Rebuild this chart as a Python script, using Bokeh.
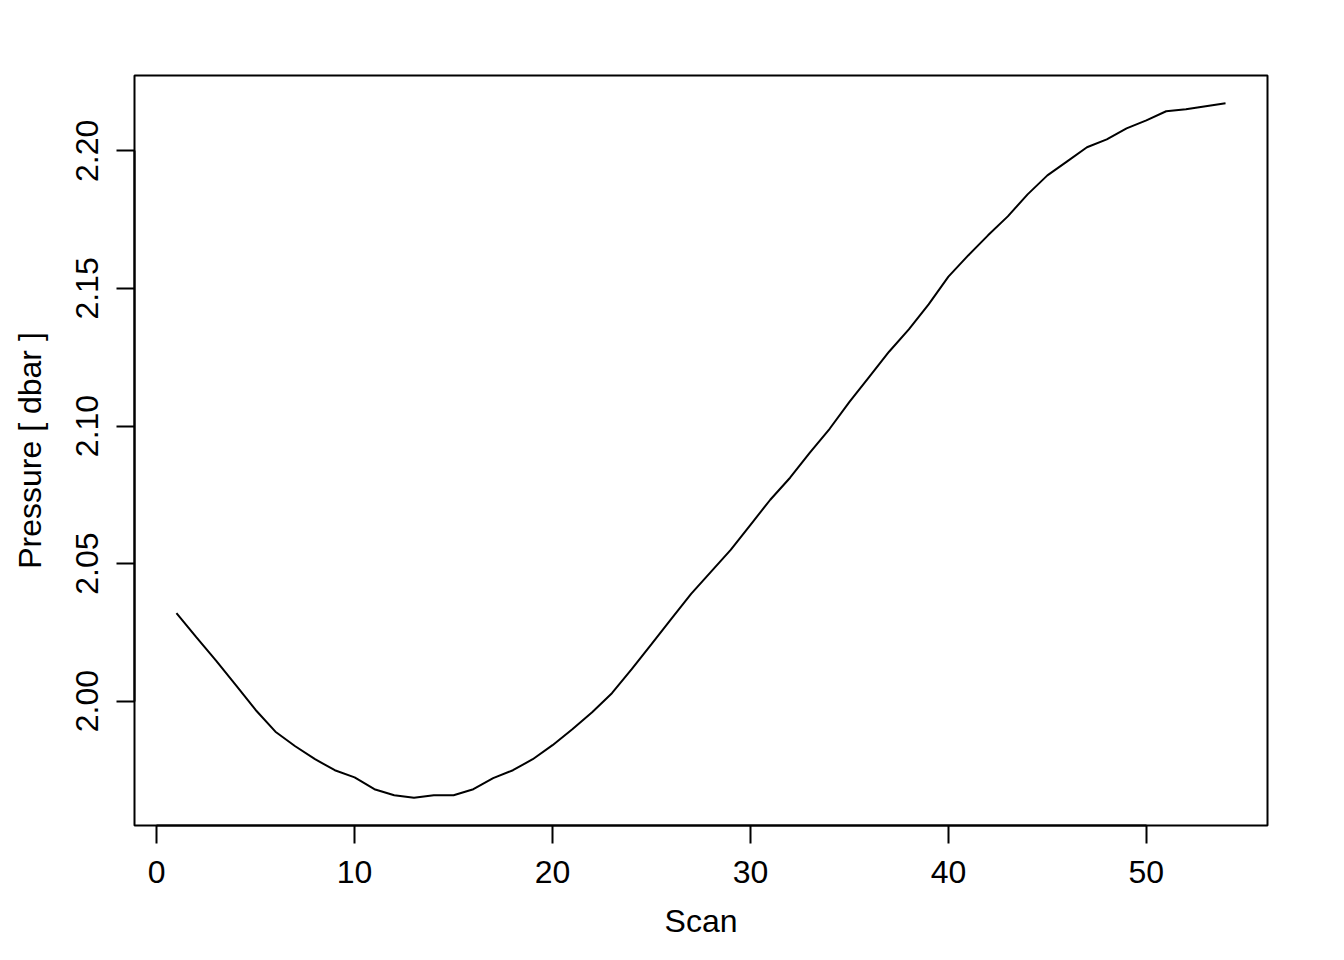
from bokeh.plotting import figure
from bokeh.models import Range1d, FixedTicker
from bokeh.embed import file_html
from bokeh.resources import INLINE

# Data
scan = list(range(1, 55))
pressure = [
    2.0320, 2.0233, 2.0147, 2.0058, 1.9968, 1.9889, 1.9836, 1.9789, 1.9749, 1.9723,
    1.9680, 1.9658, 1.9649, 1.9658, 1.9658, 1.9680, 1.9720, 1.9749, 1.9789, 1.9840,
    1.9898, 1.9960, 2.0029, 2.0116, 2.0207, 2.0299, 2.0390, 2.0470, 2.0550, 2.0641,
    2.0732, 2.0812, 2.0903, 2.0990, 2.1088, 2.1179, 2.1270, 2.1351, 2.1442, 2.1543,
    2.1620, 2.1693, 2.1762, 2.1842, 2.1911, 2.1962, 2.2013, 2.2042, 2.2082, 2.2111,
    2.2144, 2.2151, 2.2162, 2.2173,
]
x_ticks = [0, 10, 20, 30, 40, 50]
y_ticks = [2.00, 2.05, 2.10, 2.15, 2.20]
y_tick_labels = {2.00: "2.00", 2.05: "2.05", 2.10: "2.10", 2.15: "2.15", 2.20: "2.20"}
x_title = "Scan"
y_title = "Pressure [ dbar ]"

# R-style 4% range extension
def ext(vals):
    lo, hi = min(vals), max(vals)
    d = (hi - lo) * 0.04
    return lo - d, hi + d

xlo, xhi = ext(scan)
ylo, yhi = ext(pressure)

FONT = "Liberation Sans"
FS = "32px"

p = figure(
    width=1336, height=944,
    output_backend="svg", toolbar_location=None,
    x_range=Range1d(xlo, xhi), y_range=Range1d(ylo, yhi),
    min_border_left=134, min_border_right=69,
    min_border_top=75, min_border_bottom=119,
    background_fill_color="white", border_fill_color="white",
)
p.grid.visible = False
p.outline_line_color = "black"
p.outline_line_width = 2
p.outline_line_alpha = 1.0

p.line(scan, pressure, line_color="black", line_width=2)

for ax in (p.xaxis[0], p.yaxis[0]):
    ax.axis_line_width = 2
    ax.axis_line_color = "black"
    ax.major_tick_line_width = 2
    ax.major_tick_line_color = "black"
    ax.major_tick_out = 18
    ax.major_tick_in = 0
    ax.minor_tick_out = 0
    ax.minor_tick_in = 0
    ax.major_label_text_font = FONT
    ax.major_label_text_font_size = FS
    ax.major_label_text_color = "black"
    ax.axis_label_text_font = FONT
    ax.axis_label_text_font_size = FS
    ax.axis_label_text_font_style = "normal"
    ax.axis_label_text_color = "black"

p.xaxis[0].ticker = FixedTicker(ticks=x_ticks)
p.xaxis[0].bounds = (min(x_ticks), max(x_ticks))
p.xaxis[0].axis_label = x_title
p.xaxis[0].major_label_standoff = 17
p.xaxis[0].axis_label_standoff = 17

p.yaxis[0].ticker = FixedTicker(ticks=y_ticks)
p.yaxis[0].bounds = (min(y_ticks), max(y_ticks))
p.yaxis[0].major_label_overrides = y_tick_labels
p.yaxis[0].major_label_orientation = "vertical"
p.yaxis[0].axis_label = y_title
p.yaxis[0].major_label_standoff = 18
p.yaxis[0].axis_label_standoff = 26

open("out.html", "w").write(file_html(p, INLINE))
